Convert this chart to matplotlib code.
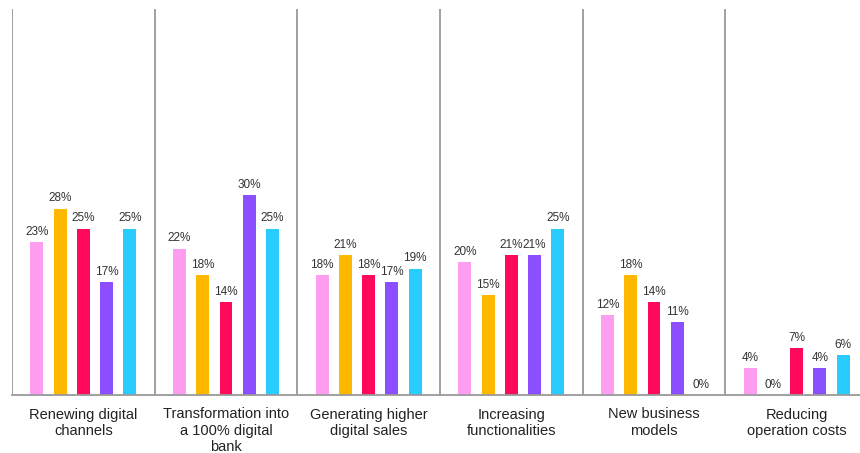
import matplotlib.pyplot as plt
import numpy as np

categories = ["Renewing digital\nchannels", "Transformation into\na 100% digital\nbank",
              "Generating higher\ndigital sales", "Increasing\nfunctionalities",
              "New business\nmodels", "Reducing\noperation costs"]
series_a = [23, 22, 18, 20, 12, 4]
series_b = [28, 18, 21, 15, 18, 0]
series_c = [25, 14, 18, 21, 14, 7]
series_d = [17, 30, 17, 21, 11, 4]
series_e = [25, 25, 19, 25, 0, 6]

colors = ["#FF9EF0", "#FFB800", "#FF0A5A", "#8C4FFF", "#2ACCFF"]
all_series = [series_a, series_b, series_c, series_d, series_e]

plt.rcParams['font.family'] = ['Liberation Sans', 'DejaVu Sans']

fig = plt.figure(figsize=(8.6, 4.53), dpi=100)
ax = fig.add_axes([12 / 860, 58 / 453, 856 / 860, 386 / 453])

x = np.arange(len(categories))
step = 0.163
width = 0.091
for k, (vals, col) in enumerate(zip(all_series, colors)):
    pos = x + 0.5 + (k - 2) * step
    ax.bar(pos, vals, width=width, color=col)
    for p, v in zip(pos, vals):
        ax.annotate(f"{v}%", (p, v), xytext=(0, 3), textcoords="offset points",
                    ha="center", va="bottom", fontsize=8.5, color="#333333")

for i in range(len(categories)):
    ax.axvline(i, color="#999999", linewidth=1.3)
    ax.annotate(categories[i], (i + 0.5, 0), xytext=(0, -9), textcoords="offset points",
                ha="center", va="top", fontsize=10.5, color="#222222", linespacing=1.22,
                annotation_clip=False)

ax.set_xlim(0, 6)
ax.set_ylim(0, 58)
for s in ["top", "right", "left"]:
    ax.spines[s].set_visible(False)
ax.spines["bottom"].set_color("#999999")
ax.spines["bottom"].set_linewidth(1.3)
ax.set_xticks([])
ax.set_yticks([])

fig.savefig("out.png", dpi=100)
